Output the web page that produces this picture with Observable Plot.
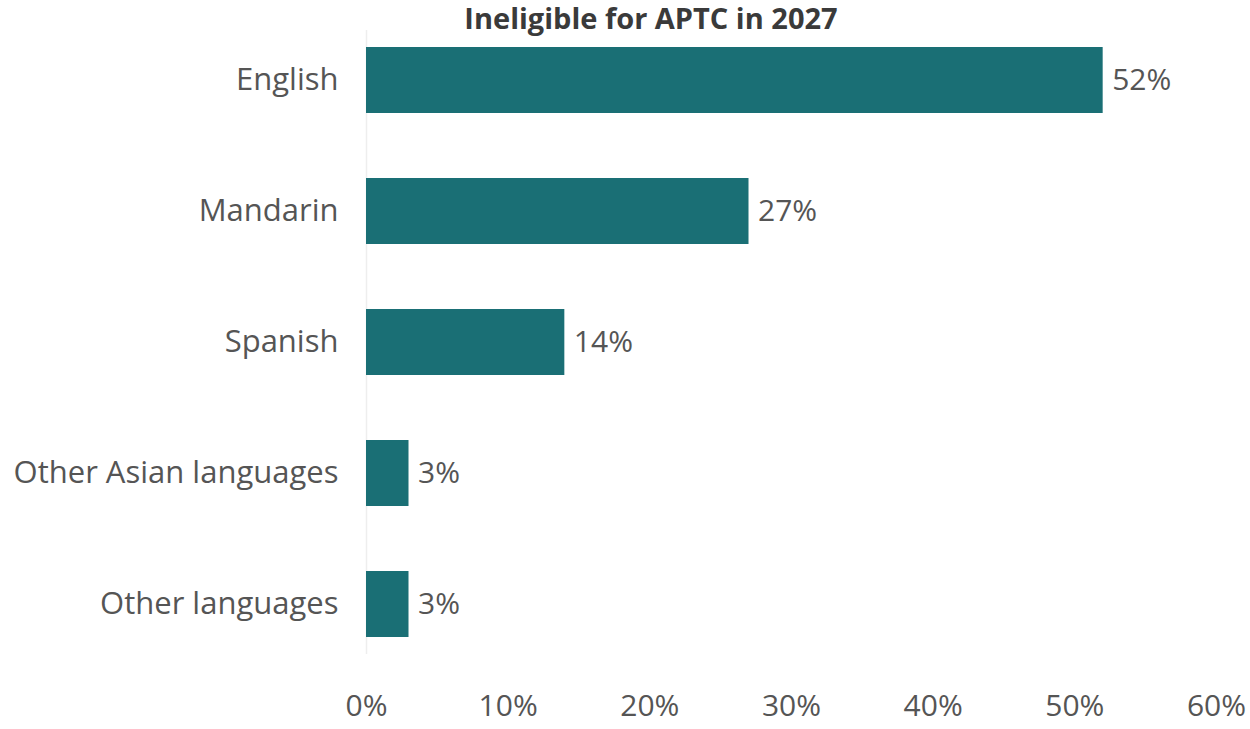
<!DOCTYPE html>
<html>
<head>
<meta charset="utf-8">
<script src="https://cdn.jsdelivr.net/npm/d3@7"></script>
<script src="https://cdn.jsdelivr.net/npm/@observablehq/plot@0.6"></script>
<style>
  html, body { margin: 0; padding: 0; background: #fff; overflow: hidden; }
  #wrap { position: relative; width: 1250px; height: 729px; }
  #title { position: absolute; left: 0; width: 1302px; top: 0px; text-align: center;
           font-family: "Open Sans", sans-serif; font-weight: 700; font-size: 29px; line-height: 36px; color: #3a3a3a; z-index: 2; }
  #chart { position: absolute; left: 0; top: 0; }
</style>
</head>
<body>
<div id="wrap">
  <div id="title">Ineligible for APTC in 2027</div>
  <div id="chart"></div>
</div>
<script>
const languages = ["English", "Mandarin", "Spanish", "Other Asian languages", "Other languages"];
const shares = [52, 27, 14, 3, 3];
const xTicks = [0, 10, 20, 30, 40, 50, 60];

const data = languages.map((lang, i) => ({lang, value: shares[i]}));

const plot = Plot.plot({
  width: 1250,
  height: 729,
  marginLeft: 366,
  marginRight: 34,
  marginTop: 30,
  marginBottom: 75,
  style: { fontFamily: "Open Sans, sans-serif", fontSize: "31px", color: "#555", background: "transparent" },
  x: { domain: [0, 60], ticks: xTicks, tickFormat: d => d + "%", label: null },
  y: { domain: languages, paddingInner: 0.5, paddingOuter: 0.13, label: null },
  marks: [
    Plot.ruleX([0], { stroke: "#eeeeee", strokeWidth: 1.5 }),
    Plot.barX(data, { x: "value", y: "lang", fill: "#1a6f75" }),
    Plot.text(data, { x: "value", y: "lang", text: d => d.value + "%", textAnchor: "start", dx: 9, fill: "#555", fontSize: 30 }),
    Plot.axisY({ tickSize: 0, tickPadding: 28, fontSize: 31, label: null }),
    Plot.axisX({ ticks: xTicks, tickFormat: d => d + "%", tickSize: 0, tickPadding: 40, fontSize: 30, label: null })
  ]
});
document.getElementById("chart").appendChild(plot);
</script>
</body>
</html>
